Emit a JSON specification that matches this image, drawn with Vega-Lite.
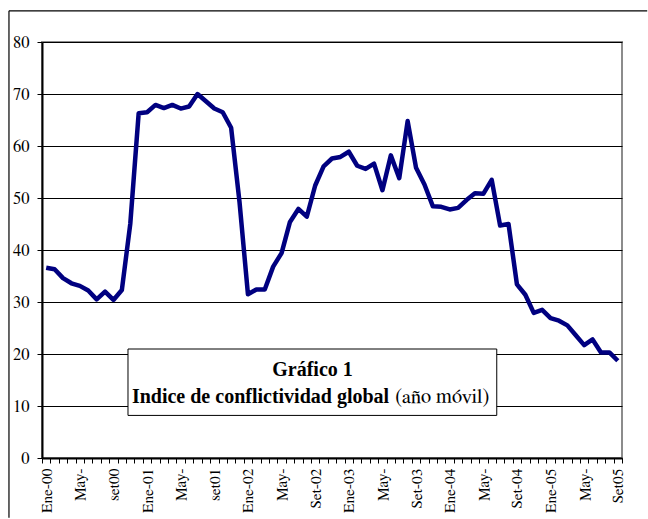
{
  "$schema": "https://vega.github.io/schema/vega-lite/v6.json",
  "width": 580,
  "height": 416,
  "autosize": {"type": "none"},
  "padding": {"left": 42, "top": 42, "right": 26, "bottom": 61},
  "background": "white",
  "config": {
    "view": {"stroke": "#8c8c8c", "strokeWidth": 2},
    "font": "FreeSerif"
  },
  "data": {
    "values": [
      {"i": 0, "mes": "Ene-00", "v": 36.6}, {"i": 1, "mes": "Feb-00", "v": 36.3}, {"i": 2, "mes": "Mar-00", "v": 34.6},
      {"i": 3, "mes": "Abr-00", "v": 33.6}, {"i": 4, "mes": "May-00", "v": 33.1}, {"i": 5, "mes": "Jun-00", "v": 32.2},
      {"i": 6, "mes": "Jul-00", "v": 30.5}, {"i": 7, "mes": "Ago-00", "v": 32.0}, {"i": 8, "mes": "Set-00", "v": 30.4},
      {"i": 9, "mes": "Oct-00", "v": 32.3}, {"i": 10, "mes": "Nov-00", "v": 45.0}, {"i": 11, "mes": "Dic-00", "v": 66.3},
      {"i": 12, "mes": "Ene-01", "v": 66.5}, {"i": 13, "mes": "Feb-01", "v": 67.9}, {"i": 14, "mes": "Mar-01", "v": 67.3},
      {"i": 15, "mes": "Abr-01", "v": 67.9}, {"i": 16, "mes": "May-01", "v": 67.2}, {"i": 17, "mes": "Jun-01", "v": 67.6},
      {"i": 18, "mes": "Jul-01", "v": 70.0}, {"i": 19, "mes": "Ago-01", "v": 68.6}, {"i": 20, "mes": "Set-01", "v": 67.2},
      {"i": 21, "mes": "Oct-01", "v": 66.5}, {"i": 22, "mes": "Nov-01", "v": 63.5}, {"i": 23, "mes": "Dic-01", "v": 49.2},
      {"i": 24, "mes": "Ene-02", "v": 31.5}, {"i": 25, "mes": "Feb-02", "v": 32.4}, {"i": 26, "mes": "Mar-02", "v": 32.4},
      {"i": 27, "mes": "Abr-02", "v": 36.8}, {"i": 28, "mes": "May-02", "v": 39.4}, {"i": 29, "mes": "Jun-02", "v": 45.4},
      {"i": 30, "mes": "Jul-02", "v": 47.9}, {"i": 31, "mes": "Ago-02", "v": 46.4}, {"i": 32, "mes": "Set-02", "v": 52.4},
      {"i": 33, "mes": "Oct-02", "v": 56.1}, {"i": 34, "mes": "Nov-02", "v": 57.6}, {"i": 35, "mes": "Dic-02", "v": 57.9},
      {"i": 36, "mes": "Ene-03", "v": 58.9}, {"i": 37, "mes": "Feb-03", "v": 56.2}, {"i": 38, "mes": "Mar-03", "v": 55.6},
      {"i": 39, "mes": "Abr-03", "v": 56.6}, {"i": 40, "mes": "May-03", "v": 51.5}, {"i": 41, "mes": "Jun-03", "v": 58.2},
      {"i": 42, "mes": "Jul-03", "v": 53.8}, {"i": 43, "mes": "Ago-03", "v": 64.8}, {"i": 44, "mes": "Set-03", "v": 55.8},
      {"i": 45, "mes": "Oct-03", "v": 52.6}, {"i": 46, "mes": "Nov-03", "v": 48.4}, {"i": 47, "mes": "Dic-03", "v": 48.3},
      {"i": 48, "mes": "Ene-04", "v": 47.8}, {"i": 49, "mes": "Feb-04", "v": 48.1}, {"i": 50, "mes": "Mar-04", "v": 49.6},
      {"i": 51, "mes": "Abr-04", "v": 50.9}, {"i": 52, "mes": "May-04", "v": 50.8}, {"i": 53, "mes": "Jun-04", "v": 53.5},
      {"i": 54, "mes": "Jul-04", "v": 44.7}, {"i": 55, "mes": "Ago-04", "v": 45.0}, {"i": 56, "mes": "Set-04", "v": 33.4},
      {"i": 57, "mes": "Oct-04", "v": 31.4}, {"i": 58, "mes": "Nov-04", "v": 27.9}, {"i": 59, "mes": "Dic-04", "v": 28.5},
      {"i": 60, "mes": "Ene-05", "v": 26.9}, {"i": 61, "mes": "Feb-05", "v": 26.4}, {"i": 62, "mes": "Mar-05", "v": 25.5},
      {"i": 63, "mes": "Abr-05", "v": 23.6}, {"i": 64, "mes": "May-05", "v": 21.7}, {"i": 65, "mes": "Jun-05", "v": 22.8},
      {"i": 66, "mes": "Jul-05", "v": 20.3}, {"i": 67, "mes": "Ago-05", "v": 20.3}, {"i": 68, "mes": "Set-05", "v": 18.7}
    ]
  },
  "layer": [
    {
      "mark": {"type": "line", "color": "#000080", "strokeWidth": 4.5, "strokeJoin": "round"},
      "encoding": {
        "x": {
          "field": "i", "type": "quantitative",
          "scale": {"domain": [-0.5, 68.5], "nice": false, "zero": false},
          "axis": {
            "orient": "bottom", "title": null, "grid": false, "ticks": false,
            "domain": true, "domainColor": "black", "domainWidth": 2,
            "values": [0, 4, 8, 12, 16, 20, 24, 28, 32, 36, 40, 44, 48, 52, 56, 60, 64, 68],
            "labelExpr": "['Ene-00','May-','set00','Ene-01','May-','set01','Ene-02','May-','Set-02','Ene-03','May-','Set-03','Ene-04','May-','Set-04','Ene-05','May-','Set05'][round(datum.value/4)]",
            "labelAngle": -90, "labelAlign": "right", "labelBaseline": "middle",
            "labelFont": "FreeSerif", "labelColor": "black",
            "labelFontSize": 15.5, "labelPadding": 10, "labelOverlap": false, "labelBound": false, "labelFlush": false
          }
        },
        "y": {
          "field": "v", "type": "quantitative",
          "scale": {"domain": [0, 80], "nice": false},
          "axis": {
            "title": null, "values": [0, 10, 20, 30, 40, 50, 60, 70, 80],
            "grid": true, "gridColor": "black", "gridWidth": 1, "gridOpacity": 1,
            "domainColor": "black", "domainWidth": 2, "tickColor": "black", "tickSize": 5, "tickWidth": 1,
            "labelFont": "FreeSerif", "labelColor": "black",
            "labelFontSize": 16.5, "labelPadding": 8
          }
        }
      }
    },
    {
      "data": {"values": [{}]},
      "mark": {"type": "rect", "fill": "white", "stroke": "black", "strokeWidth": 1},
      "encoding": {
        "x": {
          "datum": 9.73, "type": "quantitative",
          "axis": {
            "orient": "bottom", "title": null, "grid": false, "labels": false, "domain": false,
            "ticks": true, "tickColor": "black", "tickSize": 5, "tickWidth": 1,
            "values": [-0.5, 0.5, 1.5, 2.5, 3.5, 4.5, 5.5, 6.5, 7.5, 8.5, 9.5, 10.5, 11.5, 12.5, 13.5, 14.5, 15.5, 16.5, 17.5, 18.5, 19.5, 20.5, 21.5, 22.5, 23.5, 24.5, 25.5, 26.5, 27.5, 28.5, 29.5, 30.5, 31.5, 32.5, 33.5, 34.5, 35.5, 36.5, 37.5, 38.5, 39.5, 40.5, 41.5, 42.5, 43.5, 44.5, 45.5, 46.5, 47.5, 48.5, 49.5, 50.5, 51.5, 52.5, 53.5, 54.5, 55.5, 56.5, 57.5, 58.5, 59.5, 60.5, 61.5, 62.5, 63.5, 64.5, 65.5, 66.5, 67.5, 68.5]
          }
        },
        "x2": {"datum": 53.6},
        "y": {"datum": 20.96, "type": "quantitative"},
        "y2": {"datum": 8.19}
      }
    },
    {
      "data": {"values": [{}]},
      "mark": {"type": "text", "text": "Gráfico 1", "font": "Liberation Serif", "fontSize": 20, "fontWeight": "bold", "align": "center", "baseline": "alphabetic", "color": "black"},
      "encoding": {
        "x": {"datum": 31.68, "type": "quantitative", "axis": null},
        "y": {"datum": 15.83, "type": "quantitative"}
      }
    },
    {
      "data": {"values": [{}]},
      "mark": {"type": "text", "text": "Indice de conflictividad global", "font": "Liberation Serif", "fontSize": 20, "fontWeight": "bold", "align": "right", "baseline": "alphabetic", "color": "black"},
      "encoding": {
        "x": {"datum": 40.8, "type": "quantitative", "axis": null},
        "y": {"datum": 10.63, "type": "quantitative"}
      }
    },
    {
      "data": {"values": [{}]},
      "mark": {"type": "text", "text": "(año móvil)", "font": "FreeSerif", "fontSize": 20.5, "fontWeight": "normal", "align": "left", "baseline": "alphabetic", "dx": 6, "color": "black"},
      "encoding": {
        "x": {"datum": 40.8, "type": "quantitative", "axis": null},
        "y": {"datum": 10.63, "type": "quantitative"}
      }
    },
    {
      "data": {"values": [{}]},
      "mark": {"type": "rule", "color": "black", "strokeWidth": 1.2, "clip": false},
      "encoding": {
        "x": {"datum": -4.43, "type": "quantitative", "axis": null},
        "x2": {"datum": 71.5},
        "y": {"datum": 86.0, "type": "quantitative"}
      }
    },
    {
      "data": {"values": [{}]},
      "mark": {"type": "rule", "color": "black", "strokeWidth": 1.2, "clip": false},
      "encoding": {
        "x": {"datum": -4.43, "type": "quantitative", "axis": null},
        "y": {"datum": 86.0, "type": "quantitative"},
        "y2": {"datum": -11.5}
      }
    }
  ],
  "resolve": {"axis": {"x": "independent"}}
}
